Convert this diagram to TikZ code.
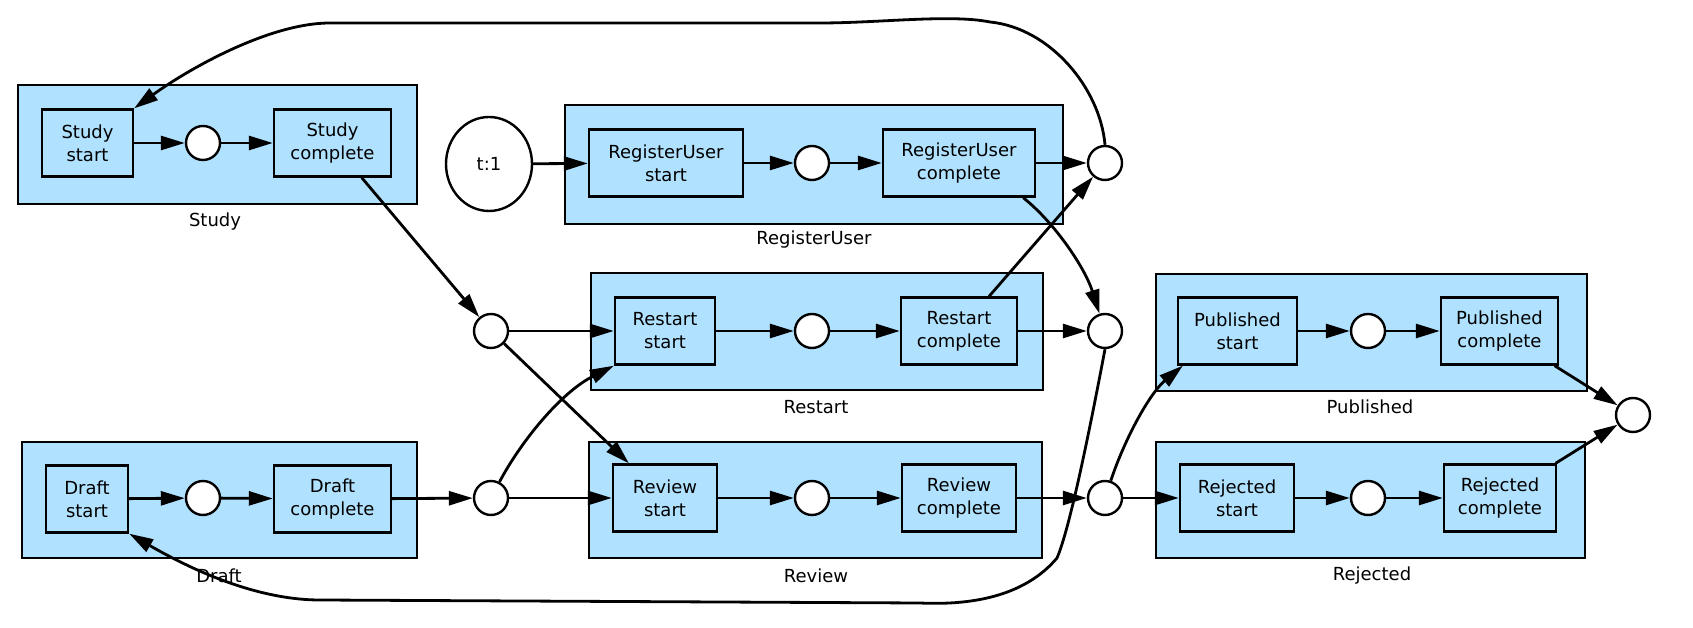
\documentclass[tikz,border=0pt]{standalone}
\usepackage{fontspec}
\setmainfont{DejaVu Sans}
\usetikzlibrary{arrows.meta,shapes.geometric}
\definecolor{clusterblue}{RGB}{176,226,255}
\begin{document}
\begin{tikzpicture}[x=1pt,y=1pt,
  every node/.style={font=\fontsize{18}{23}\selectfont},
  cluster/.style={draw,line width=2.4pt,fill=clusterblue},
  task/.style={draw,line width=2.4pt,fill=clusterblue,align=center,minimum height=67pt,inner sep=0pt},
  place/.style={draw,circle,line width=2.4pt,fill=white,minimum size=34pt,inner sep=0pt},
  edge/.style={line width=2.8pt,-{Triangle[length=24pt,width=14pt]}}]
\useasboundingbox (0,0) rectangle (1693,628);
% clusters
\draw[cluster] (18,543) rectangle (417,424);
\draw[cluster] (22,186) rectangle (417,70);
\draw[cluster] (565,523) rectangle (1063,404);
\draw[cluster] (591,355) rectangle (1043,238);
\draw[cluster] (589,186) rectangle (1042,70);
\draw[cluster] (1156,354) rectangle (1587,237);
\draw[cluster] (1156,186) rectangle (1585,70);
\node (studyL) at (215,406) {Study};
\node (draftL) at (219,52) {Draft};
\node (registerL) at (814,388) {RegisterUser};
\node (restartL) at (816,221) {Restart};
\node (reviewL) at (816,52) {Review};
\node (publishedL) at (1370,221) {Published};
\node (rejectedL) at (1372,52) {Rejected};
% transitions
\node[task,minimum width=91pt] (SS) at (87.5,485) {Study\\start};
\node[task,minimum width=117pt] (SC) at (332.5,485) {Study\\complete};
\node[task,minimum width=82pt] (DS) at (87,129) {Draft\\start};
\node[task,minimum width=117pt] (DC) at (332.5,129) {Draft\\complete};
\node[task,minimum width=154pt] (RUS) at (666,465) {RegisterUser\\start};
\node[task,minimum width=152pt] (RUC) at (959,465) {RegisterUser\\complete};
\node[task,minimum width=100pt] (RSS) at (665,297) {Restart\\start};
\node[task,minimum width=116pt] (RSC) at (959,297) {Restart\\complete};
\node[task,minimum width=104pt] (RVS) at (665,130) {Review\\start};
\node[task,minimum width=114pt] (RVC) at (959,130) {Review\\complete};
\node[task,minimum width=119pt] (PS) at (1237.5,297) {Published\\start};
\node[task,minimum width=117pt] (PC) at (1499.5,297) {Published\\complete};
\node[task,minimum width=114pt] (JS) at (1237,130) {Rejected\\start};
\node[task,minimum width=112pt] (JC) at (1500,130) {Rejected\\complete};
% places
\node[place] (SSp) at (203,485) {};
\node[place] (DSp) at (203,130) {};
\node[place] (RUp) at (812,465) {};
\node[place] (RSp) at (812,297) {};
\node[place] (RVp) at (812,130) {};
\node[place] (Pp) at (1368,297) {};
\node[place] (Jp) at (1368,130) {};
\node[place] (A) at (1105,465) {};
\node[place] (B) at (1105,297) {};
\node[place] (C) at (491,297) {};
\node[place] (D) at (1105,130) {};
\node[place] (E) at (491,130) {};
\node[place] (F) at (1633,213) {};
\node[draw,ellipse,line width=2.4pt,fill=white,minimum width=86pt,minimum height=94pt,inner sep=0pt] (t1) at (489,464) {t:1};
% study and draft
\draw[edge] (SS) -- (SSp);
\draw[edge] (SSp) -- (SC);
\draw[edge] (SC) -- (C);
\draw[edge] (DS) -- (DSp);
\draw[edge] (DSp) -- (DC);
\draw[edge] (DC) -- (E);
% register user
\draw[edge] (t1) -- (RUS);
\draw[edge] (RUS) -- (RUp);
\draw[edge] (RUp) -- (RUC);
\draw[edge] (RUC) -- (A);
\draw[edge] ([xshift=-13pt]RUC.south east) .. controls (1055,405) and (1085,360) .. (B);
% restart
\draw[edge] (C) -- (RSS);
\draw[edge] (E) .. controls (520,185) and (560,235) .. (RSS.south west);
\draw[edge] (RSS) -- (RSp);
\draw[edge] (RSp) -- (RSC);
\draw[edge] (RSC) -- (B);
\draw[edge] (RSC) -- (A);
% review
\draw[edge] (C) -- (RVS);
\draw[edge] (E) -- (RVS);
\draw[edge] (RVS) -- (RVp);
\draw[edge] (RVp) -- (RVC);
\draw[edge] (RVC) -- (D);
% published and rejected
\draw[edge] (D) .. controls (1125,190) and (1150,235) .. ([xshift=6pt]PS.south west);
\draw[edge] (D) -- (JS);
\draw[edge] (PS) -- (Pp);
\draw[edge] (Pp) -- (PC);
\draw[edge] (PC) -- (F);
\draw[edge] (JS) -- (Jp);
\draw[edge] (Jp) -- (JC);
\draw[edge] (JC) -- (F);
% back loops
\draw[edge] (A.north) .. controls (1100,540) and (1050,600) .. (990,606)
  .. controls (950,614) and (880,605) .. (820,605) -- (330,605)
  .. controls (270,605) and (190,560) .. (SS.north east);
\draw[edge] (B.south) .. controls (1090,200) and (1070,100) .. (1057,70)
  .. controls (1030,38) and (985,22) .. (920,25) -- (320,28)
  .. controls (250,28) and (180,65) .. (DS.south east);
\end{tikzpicture}
\end{document}
